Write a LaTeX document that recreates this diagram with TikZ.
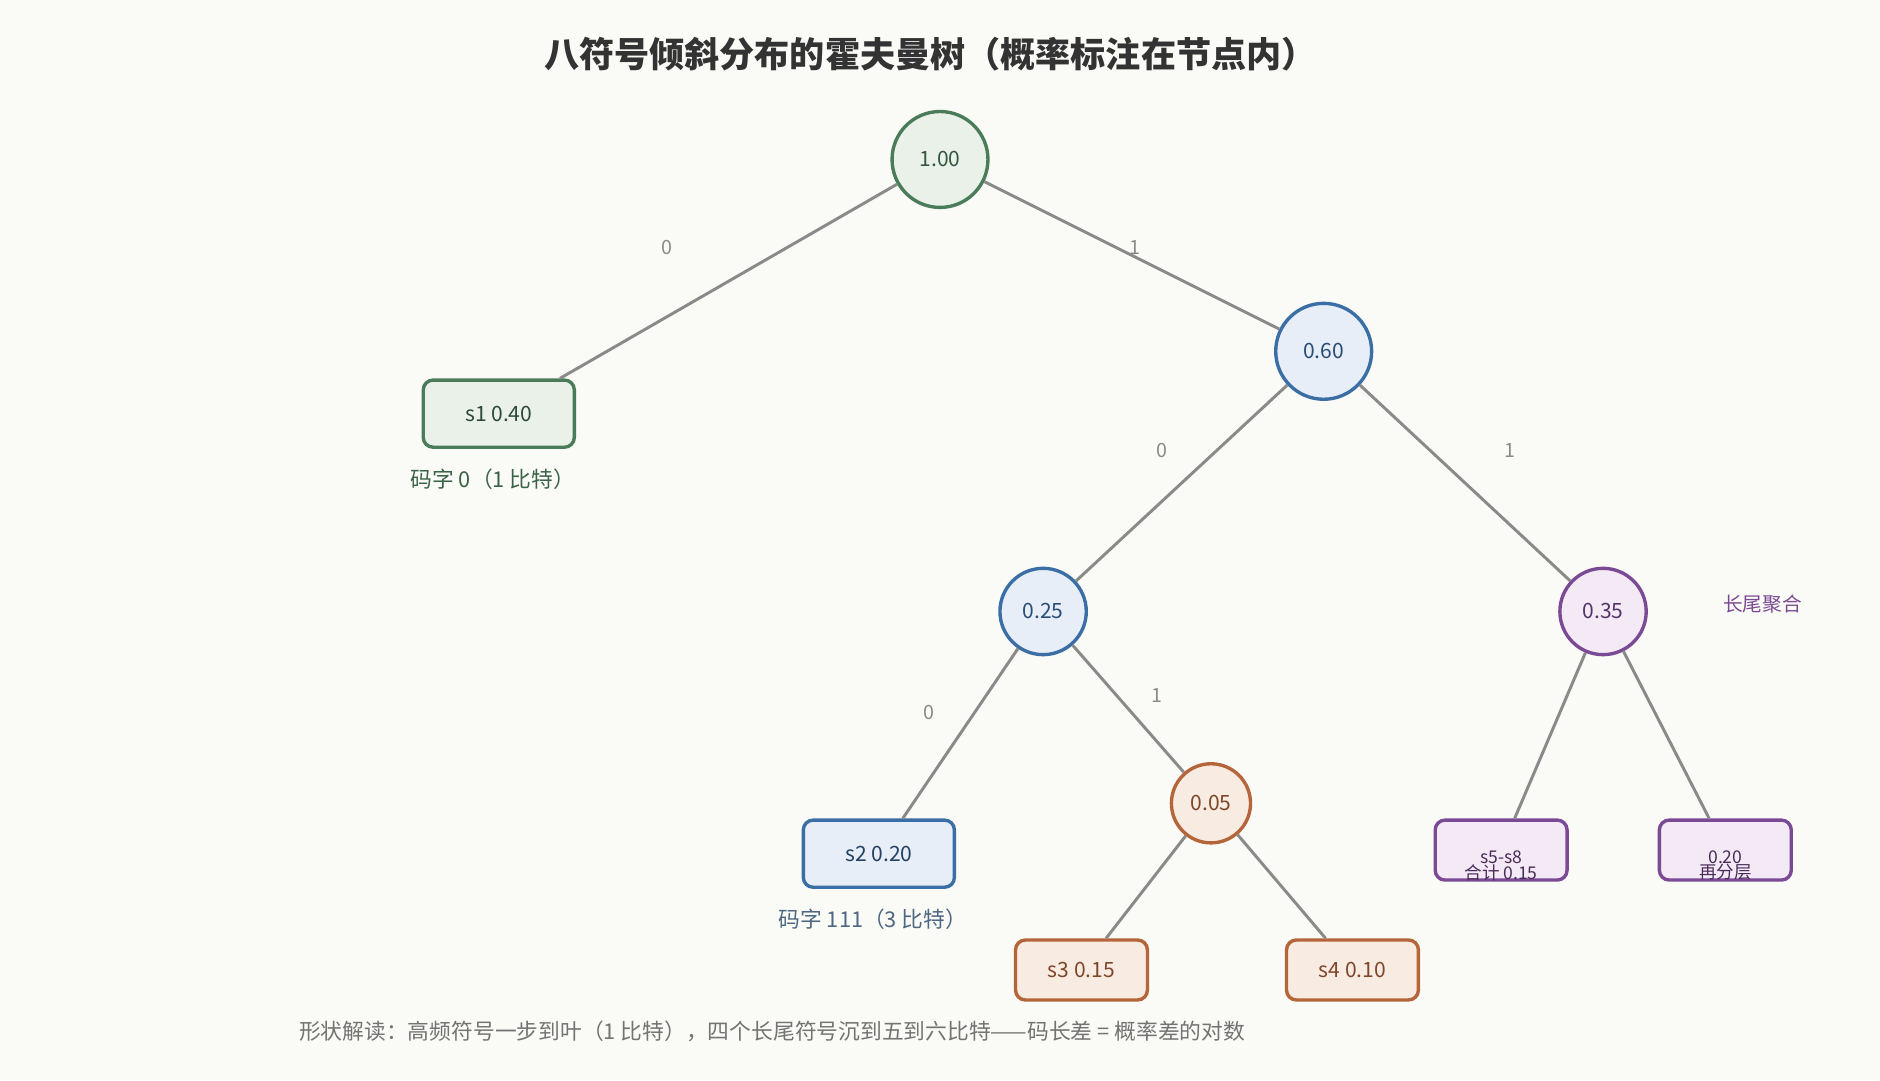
\documentclass[tikz,border=0pt]{standalone}
\usepackage{fontspec}
\setmainfont{Noto Sans CJK SC}
\usepackage{tikz}

\definecolor{bgc}{HTML}{FAFAF6}
\definecolor{edgec}{HTML}{8A8A8A}
\definecolor{grn}{HTML}{4A7C59}
\definecolor{grnf}{HTML}{E9F1E9}
\definecolor{blu}{HTML}{3A6EA5}
\definecolor{bluf}{HTML}{E7EEF8}
\definecolor{pur}{HTML}{7B4A94}
\definecolor{purf}{HTML}{F3EAF6}
\definecolor{org}{HTML}{B5653A}
\definecolor{orgf}{HTML}{F8EBE1}

\begin{document}
\begin{tikzpicture}[x=0.3mm, y=-0.3mm,
    inner/.style = {circle, draw, line width=2.4pt, inner sep=0pt, font=\fontsize{15}{18}\selectfont},
    leaf/.style = {rectangle, rounded corners=7pt, draw, line width=2.4pt, inner sep=0pt, font=\fontsize{15}{18}\selectfont},
    edge/.style = {draw=edgec, line width=2.1pt},
    bit/.style = {text=edgec, font=\fontsize{14}{16}\selectfont}]
      \fill [bgc] (0,0) rectangle (1568,901);
      \node [font=\bfseries\fontsize{25}{30}\selectfont, text=black!80] (title) at (776,45) {八符号倾斜分布的霍夫曼树（概率标注在节点内）};
      % internal nodes
      \node [inner, minimum size=80*0.3mm, draw=grn, fill=grnf, text=grn!70!black] (n100) at (784,133) {1.00};
      \node [inner, minimum size=80*0.3mm, draw=blu, fill=bluf, text=blu!70!black] (n060) at (1104,293) {0.60};
      \node [inner, minimum size=72*0.3mm, draw=blu, fill=bluf, text=blu!70!black] (n025) at (870,510) {0.25};
      \node [inner, minimum size=72*0.3mm, draw=pur, fill=purf, text=pur!70!black] (n035) at (1337,510) {0.35};
      \node [inner, minimum size=66*0.3mm, draw=org, fill=orgf, text=org!70!black] (n005) at (1010,670) {0.05};
      % leaves
      \node [leaf, minimum width=126*0.3mm, minimum height=56*0.3mm, draw=grn, fill=grnf, text=grn!60!black] (s1) at (416,345) {s1 0.40};
      \node [leaf, minimum width=126*0.3mm, minimum height=56*0.3mm, draw=blu, fill=bluf, text=blu!60!black] (s2) at (733,712) {s2 0.20};
      \node [leaf, minimum width=110*0.3mm, minimum height=50*0.3mm, draw=org, fill=orgf, text=org!70!black] (s3) at (902,809) {s3 0.15};
      \node [leaf, minimum width=110*0.3mm, minimum height=50*0.3mm, draw=org, fill=orgf, text=org!70!black] (s4) at (1128,809) {s4 0.10};
      \node [leaf, minimum width=110*0.3mm, minimum height=50*0.3mm, draw=pur, fill=purf] (s58) at (1252,709) {};
      \node [leaf, minimum width=110*0.3mm, minimum height=50*0.3mm, draw=pur, fill=purf] (s020) at (1439,709) {};
      \node [text=pur!60!black, font=\fontsize{12.5}{14}\selectfont, align=center] (s58t) at (1252,722) {s5-s8\\[-3pt]合计 0.15};
      \node [text=pur!60!black, font=\fontsize{12.5}{14}\selectfont, align=center] (s020t) at (1439,722) {0.20\\[-3pt]再分层};
      % edges
      \draw [edge] (n100) -- (s1);
      \draw [edge] (n100) -- (n060);
      \draw [edge] (n060) -- (n025);
      \draw [edge] (n060) -- (n035);
      \draw [edge] (n025) -- (s2);
      \draw [edge] (n025) -- (n005);
      \draw [edge] (n005) -- (s3);
      \draw [edge] (n005) -- (s4);
      \draw [edge] (n035) -- (s58);
      \draw [edge] (n035) -- (s020);
      % bit labels
      \node [bit] (b1) at (556,206) {0};
      \node [bit] (b2) at (947,206) {1};
      \node [bit] (b3) at (969,376) {0};
      \node [bit] (b4) at (1259,376) {1};
      \node [bit] (b5) at (775,594) {0};
      \node [bit] (b6) at (965,580) {1};
      % notes
      \node [text=grn!80!black, font=\fontsize{15.5}{18}\selectfont] (c1) at (411,400) {码字 0（1 比特）};
      \node [text=blu!60!black!80, font=\fontsize{15.5}{18}\selectfont] (c2) at (728,767) {码字 111（3 比特）};
      \node [text=pur, font=\fontsize{14}{16}\selectfont] (tail) at (1470,504) {长尾聚合};
      \node [text=black!55, font=\fontsize{15.5}{18}\selectfont] (foot) at (644,860) {形状解读：高频符号一步到叶（1 比特），四个长尾符号沉到五到六比特——码长差 = 概率差的对数};
\end{tikzpicture}
\end{document}
